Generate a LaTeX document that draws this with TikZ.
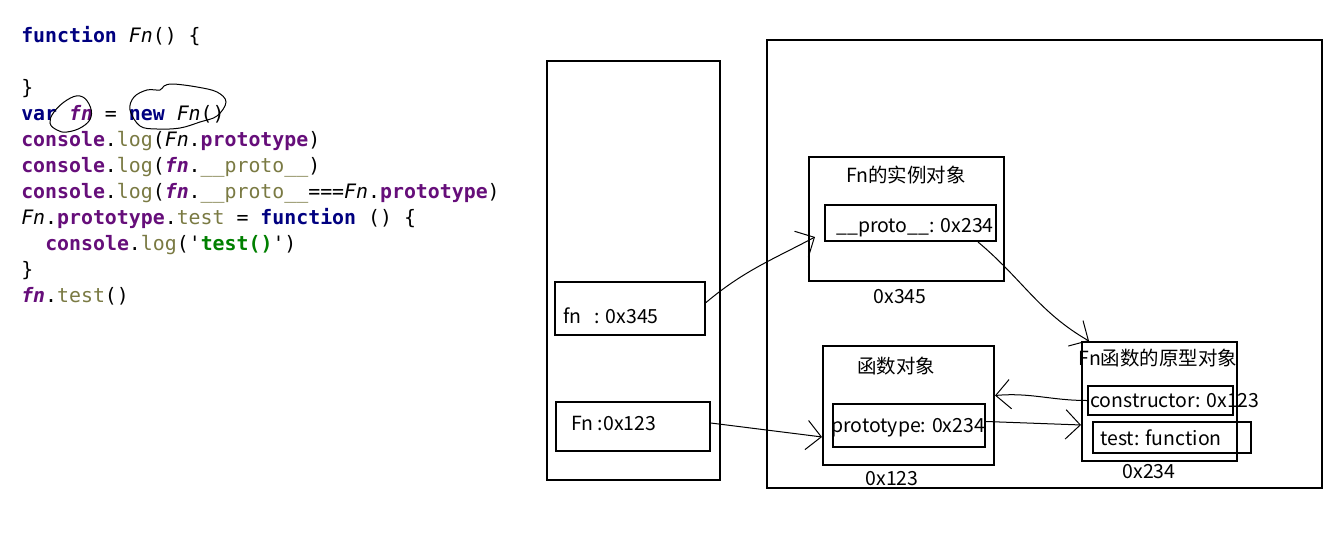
\documentclass[tikz,border=0pt]{standalone}
\usepackage{fontspec}
\setmonofont{DejaVu Sans Mono}
\newfontfamily\cjk{Noto Sans CJK SC}
\usetikzlibrary{arrows.meta,fit}
\definecolor{kwc}{HTML}{000080}
\definecolor{purc}{HTML}{660E7A}
\definecolor{olc}{HTML}{7A7A43}
\definecolor{grc}{HTML}{008000}
\newcommand{\cKw}[1]{{\color{kwc}\bfseries #1}}
\newcommand{\cPb}[1]{{\color{purc}\bfseries #1}}
\newcommand{\cPbi}[1]{{\color{purc}\bfseries\itshape #1}}
\newcommand{\cOl}[1]{{\color{olc}#1}}
\newcommand{\cGr}[1]{{\color{grc}\bfseries #1}}
\begin{document}
\begin{tikzpicture}[x=0.75pt,y=-0.75pt,
  box/.style={draw,line width=1.5pt,inner sep=0pt},
  code/.style={anchor=base west,inner sep=0pt,font=\ttfamily\fontsize{14.9pt}{18pt}\selectfont},
  lab/.style={inner sep=0pt,font=\cjk\fontsize{14.6pt}{17pt}\selectfont},
  hand/.style={line width=0.75pt,-{Straight Barb[length=11pt,width=22pt]}},
  loopline/.style={line width=0.75pt}]
\useasboundingbox[fill=white] (0,0) rectangle (1341,557);

% code
\node[code] (c1) at (21,42) {\cKw{function} \textit{Fn}() \{};
\node[code] (c3) at (21,94) {\}};
\node[code] (c4) at (21,120) {\cKw{var} \cPbi{fn} = \cKw{new} \textit{Fn}()};
\node[code] (c5) at (21,146) {\cPb{console}.\cOl{log}(\textit{Fn}.\cPb{prototype})};
\node[code] (c6) at (21,172) {\cPb{console}.\cOl{log}(\cPbi{fn}.\cOl{\_\_proto\_\_})};
\node[code] (c7) at (21,198) {\cPb{console}.\cOl{log}(\cPbi{fn}.\cOl{\_\_proto\_\_}===\textit{Fn}.\cPb{prototype})};
\node[code] (c8) at (21,224) {\textit{Fn}.\cPb{prototype}.\cOl{test} = \cKw{function} () \{};
\node[code] (c9) at (45,250) {\cPb{console}.\cOl{log}('\cGr{test()}')};
\node[code] (c10) at (21,276) {\}};
\node[code] (c11) at (21,302) {\cPbi{fn}.\cOl{test}()};

% hand-drawn loops
\draw[loopline] plot[smooth cycle,tension=0.7] coordinates {(80,96) (67,100) (54,112) (50,123) (57,130) (67,132) (82,127) (91,117) (89,104)};
\draw[loopline] plot[smooth cycle,tension=0.6] coordinates {(160,90) (147,90) (134,97) (130,110) (140,126) (157,129) (180,128) (200,122) (217,116) (226,102) (217,92) (197,87) (173,84) (164,86)};

% stack and heap
\node[box, fit={(547,61) (720,480)}] (stack) {};
\node[box, fit={(767,40) (1322,488)}] (heap) {};

% stack entries
\node[box, fit={(555,282) (705,335)}] (fnBox) {};
\node[lab, anchor=base west] (fnTxt) at (563,323) {fn\ \ \ : 0x345};
\node[box, fit={(556,402) (710,451)}] (FnBox) {};
\node[lab, anchor=base west] (FnTxt) at (571,430) {Fn :0x123};

% instance object
\node[box, fit={(809,157) (1004,281)}] (instBox) {};
\node[lab, anchor=base] (instTitle) at (906,182) {Fn的实例对象};
\node[box, fit={(825,205) (996,241)}] (protoBox) {};
\node[lab, anchor=base west] (protoTxt) at (836,232) {\_\_proto\_\_: 0x234};
\node[lab, anchor=base] (instAddr) at (900,303) {0x345};

% function object
\node[box, fit={(823,346) (994,465)}] (funcObj) {};
\node[lab, anchor=base] (funcTitle) at (896,373) {函数对象};
\node[box, fit={(833,404) (985,447)}] (protInner) {};
\node[lab, anchor=base west] (protTxt) at (831,432) {prototype: 0x234};
\node[lab, anchor=base] (funcAddr) at (892,485) {0x123};

% prototype object
\node[box, fit={(1082,342) (1237,461)}] (protoObj) {};
\node[lab, anchor=base] (protoTitle) at (1158,365) {Fn函数的原型对象};
\node[box, fit={(1088,386) (1233,415)}] (ctorBox) {};
\node[lab, anchor=base west] (ctorTxt) at (1090,407) {constructor: 0x123};
\node[box, fit={(1093,422) (1251,453)}] (testBox) {};
\node[lab, anchor=base west] (testTxt) at (1100,445) {test: function};
\node[lab, anchor=base] (protoAddr) at (1149,478) {0x234};

% connectors
\draw[hand] ([yshift=4.5pt]fnBox.east) to[out=40,in=208] ([xshift=5.25pt,yshift=-13.5pt]instBox.west);
\draw[hand] ([xshift=-14.25pt]protoBox.south east) to[out=-40,in=150] ([xshift=6pt]protoObj.north west);
\draw[hand] (ctorBox.west) to[out=180,in=5] ([yshift=7.5pt]funcObj.east);
\draw[hand] ([yshift=3pt]protInner.east) -- ([yshift=-17.6pt]protoObj.west);
\draw[hand] ([yshift=2.6pt]FnBox.east) -- ([yshift=-23.6pt]funcObj.west);
\end{tikzpicture}
\end{document}
